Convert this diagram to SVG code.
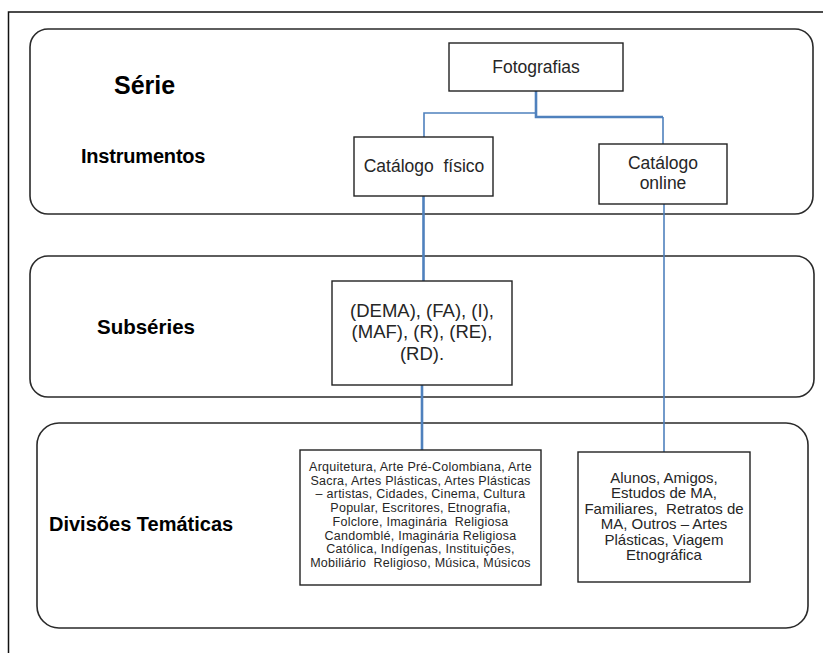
<svg xmlns="http://www.w3.org/2000/svg" width="823" height="653" viewBox="0 0 823 653">
  <style>
    .frame { fill: none; stroke: #111; stroke-width: 1.5; }
    .panel { fill: none; stroke: #2a2a2a; stroke-width: 1.6; }
    .box { fill: #fff; stroke: #222; stroke-width: 1.4; }
    .label { font-family: "Liberation Sans", Arial, sans-serif; font-weight: bold; fill: #000; }
    .txt { font-family: "Liberation Sans", Arial, sans-serif; fill: #262626; text-anchor: middle; }
    .wire { fill: none; stroke: #4F81BD; }
    .thick { stroke-width: 2.6; }
    .thin { stroke-width: 1.6; }
  </style>
  <rect width="823" height="653" fill="#fff"/>

  <!-- outer page frame -->
  <rect class="frame" x="8.5" y="12" width="830" height="660"/>

  <!-- level bands -->
  <g id="band-serie-instrumentos">
    <rect class="panel" x="30" y="29" width="783" height="185" rx="18" ry="18"/>
    <text class="label" x="114" y="94" font-size="25">Série</text>
    <text class="label" x="81" y="163" font-size="20" letter-spacing="-0.2">Instrumentos</text>
  </g>
  <g id="band-subseries">
    <rect class="panel" x="30" y="256" width="784" height="141" rx="18" ry="18"/>
    <text class="label" x="97" y="334" font-size="20.5">Subséries</text>
  </g>
  <g id="band-divisoes">
    <rect class="panel" x="37" y="423" width="771" height="205" rx="22" ry="22"/>
    <text class="label" x="49" y="531" font-size="20">Divisões Temáticas</text>
  </g>

  <!-- connectors -->
  <g id="connectors">
    <path class="wire thick" d="M536 91 V117 H663"/>
    <path class="wire thin" d="M663 117 V144"/>
    <path class="wire thin" d="M536 113 H424 V137"/>
    <path class="wire thick" d="M423.5 196 V281"/>
    <path class="wire thick" d="M422 385 V450"/>
    <path class="wire thin" d="M664 204 V452"/>
  </g>

  <!-- nodes -->
  <g id="fotografias">
    <rect class="box" x="449" y="43" width="174" height="48"/>
    <text class="txt" x="536" y="73" font-size="17.5">Fotografias</text>
  </g>
  <g id="catalogo-fisico">
    <rect class="box" x="354" y="137" width="139" height="59"/>
    <text class="txt" x="424" y="172" font-size="17.5" xml:space="preserve">Catálogo  físico</text>
  </g>
  <g id="catalogo-online">
    <rect class="box" x="599" y="144" width="128" height="60"/>
    <text class="txt" x="663" y="169" font-size="17.5">Catálogo</text>
    <text class="txt" x="663" y="189" font-size="17.5">online</text>
  </g>
  <g id="subseries">
    <rect class="box" x="332" y="281" width="180" height="104"/>
    <text class="txt" x="422" y="317" font-size="18.5">(DEMA), (FA), (I),</text>
    <text class="txt" x="422" y="338" font-size="18.5">(MAF), (R), (RE),</text>
    <text class="txt" x="422" y="360" font-size="18.5">(RD).</text>
  </g>
  <g id="divisoes-fisico">
    <rect class="box" x="300" y="450" width="241" height="135"/>
    <g font-size="12.5" letter-spacing="0.25">
      <text class="txt" x="420.5" y="471">Arquitetura, Arte Pré-Colombiana, Arte</text>
      <text class="txt" x="420.5" y="484.7">Sacra, Artes Plásticas, Artes Plásticas</text>
      <text class="txt" x="420.5" y="498.4">– artistas, Cidades, Cinema, Cultura</text>
      <text class="txt" x="420.5" y="512.1">Popular, Escritores, Etnografia,</text>
      <text class="txt" x="420.5" y="525.8" xml:space="preserve">Folclore, Imaginária  Religiosa</text>
      <text class="txt" x="420.5" y="539.5">Candomblé, Imaginária Religiosa</text>
      <text class="txt" x="420.5" y="553.2">Católica, Indígenas, Instituições,</text>
      <text class="txt" x="420.5" y="566.9" xml:space="preserve">Mobiliário  Religioso, Música, Músicos</text>
    </g>
  </g>
  <g id="divisoes-online">
    <rect class="box" x="578" y="452" width="172" height="130"/>
    <g font-size="15">
      <text class="txt" x="664" y="483">Alunos, Amigos,</text>
      <text class="txt" x="664" y="498.4">Estudos de MA,</text>
      <text class="txt" x="664" y="513.8" xml:space="preserve">Familiares,  Retratos de</text>
      <text class="txt" x="664" y="529.2">MA, Outros – Artes</text>
      <text class="txt" x="664" y="544.6">Plásticas, Viagem</text>
      <text class="txt" x="664" y="560">Etnográfica</text>
    </g>
  </g>
</svg>
